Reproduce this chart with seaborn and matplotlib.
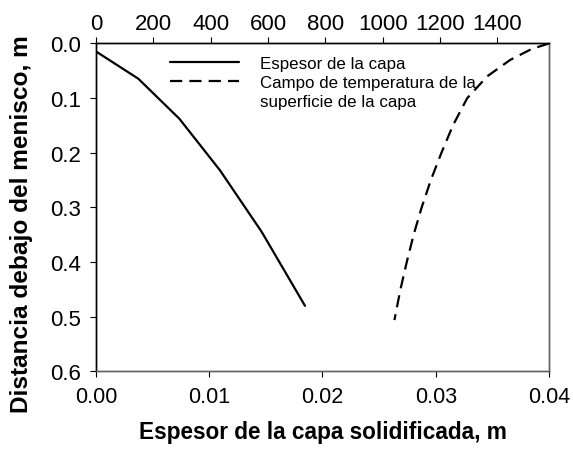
import matplotlib
matplotlib.use("Agg")
import matplotlib.pyplot as plt
from matplotlib.lines import Line2D
import seaborn as sns
import pandas as pd

# Solidified shell thickness along the strand
dist_shell = [0.0146, 0.0645, 0.1376, 0.232, 0.3445, 0.480]
thickness = [0.0, 0.00374, 0.00736, 0.01095, 0.01463, 0.01846]

# Shell surface temperature along the strand
dist_temp = [0.0, 0.01, 0.03, 0.06, 0.10, 0.15, 0.20, 0.25, 0.30, 0.35, 0.40, 0.45, 0.506]
temperature = [1580, 1520, 1445, 1365, 1295, 1245, 1205, 1168, 1136, 1108, 1084, 1062, 1041]

top_ticks = [0, 200, 400, 600, 800, 1000, 1200, 1400]
bottom_ticks = [0.00, 0.01, 0.02, 0.03, 0.04]
left_ticks = [0.0, 0.1, 0.2, 0.3, 0.4, 0.5, 0.6]

label_shell = "Espesor de la capa"
label_temp_1 = "Campo de temperatura de la"
label_temp_2 = "superficie de la capa"

DASH = [5.5, 3.2]

sns.set_theme(style="ticks")
plt.rcParams["font.family"] = ["Liberation Sans", "DejaVu Sans"]
plt.rcParams["text.color"] = "black"
plt.rcParams["axes.labelcolor"] = "black"
plt.rcParams["xtick.color"] = "black"
plt.rcParams["ytick.color"] = "black"
plt.rcParams["xtick.major.size"] = 4.5
plt.rcParams["ytick.major.size"] = 4.5
plt.rcParams["xtick.major.width"] = 0.8
plt.rcParams["ytick.major.width"] = 0.8

fig = plt.figure(figsize=(5.73, 4.52), dpi=100)
ax = fig.add_axes([0.1675, 0.176, 0.7905, 0.7256])

shell_df = pd.DataFrame({"x": thickness, "y": dist_shell})
temp_df = pd.DataFrame({"x": temperature, "y": dist_temp})

sns.lineplot(data=shell_df, x="x", y="y", sort=False, estimator=None,
             color="black", linewidth=1.6, ax=ax)
ax.set_xlim(0, 0.04)
ax.set_ylim(0.6, 0.0)
ax.set_xticks(bottom_ticks)
ax.set_xticklabels([f"{t:.2f}" for t in bottom_ticks], fontsize=15.5)
ax.set_yticks(left_ticks)
ax.set_yticklabels([f"{t:.1f}" for t in left_ticks], fontsize=16)
ax.set_xlabel("Espesor de la capa solidificada, m", fontsize=16.3,
              fontweight="bold", labelpad=9, color="black")
ax.set_ylabel("Distancia debajo del menisco, m", fontsize=17.6,
              fontweight="bold", color="black")
ax.yaxis.set_label_coords(-0.14, 0.452)
ax.tick_params(axis="x", colors="black", labelcolor="black", pad=6)
ax.tick_params(axis="y", colors="black", labelcolor="black", pad=6)

ax2 = ax.twiny()
sns.lineplot(data=temp_df, x="x", y="y", sort=False, estimator=None,
             color="black", linewidth=1.6, ax=ax2)
ax2.lines[0].set_dashes(DASH)
ax2.set_xlim(0, 1580)
ax2.set_ylim(0.6, 0.0)
ax2.set_xticks(top_ticks)
ax2.set_xticklabels([str(t) for t in top_ticks], fontsize=16)
ax2.set_xlabel("")
ax2.tick_params(colors="black", labelcolor="black", pad=2)

for a in (ax, ax2):
    a.spines["left"].set_color("black")
    a.spines["top"].set_color("black")
    a.spines["bottom"].set_color("#606060")
    a.spines["right"].set_color("#606060")
    for s in a.spines.values():
        s.set_linewidth(1.0)

handles = [
    Line2D([], [], color="black", linewidth=1.6),
    Line2D([], [], color="black", linewidth=1.6, dashes=DASH),
    Line2D([], [], color="none"),
]
leg = ax2.legend(handles, [label_shell, label_temp_1, label_temp_2],
                 loc="upper left", bbox_to_anchor=(0.135, 1.0),
                 frameon=False, fontsize=12.2, handlelength=4.1,
                 handletextpad=1.2, labelspacing=0.22, borderaxespad=0.35,
                 labelcolor="black")

fig.savefig("out.png", dpi=100)
